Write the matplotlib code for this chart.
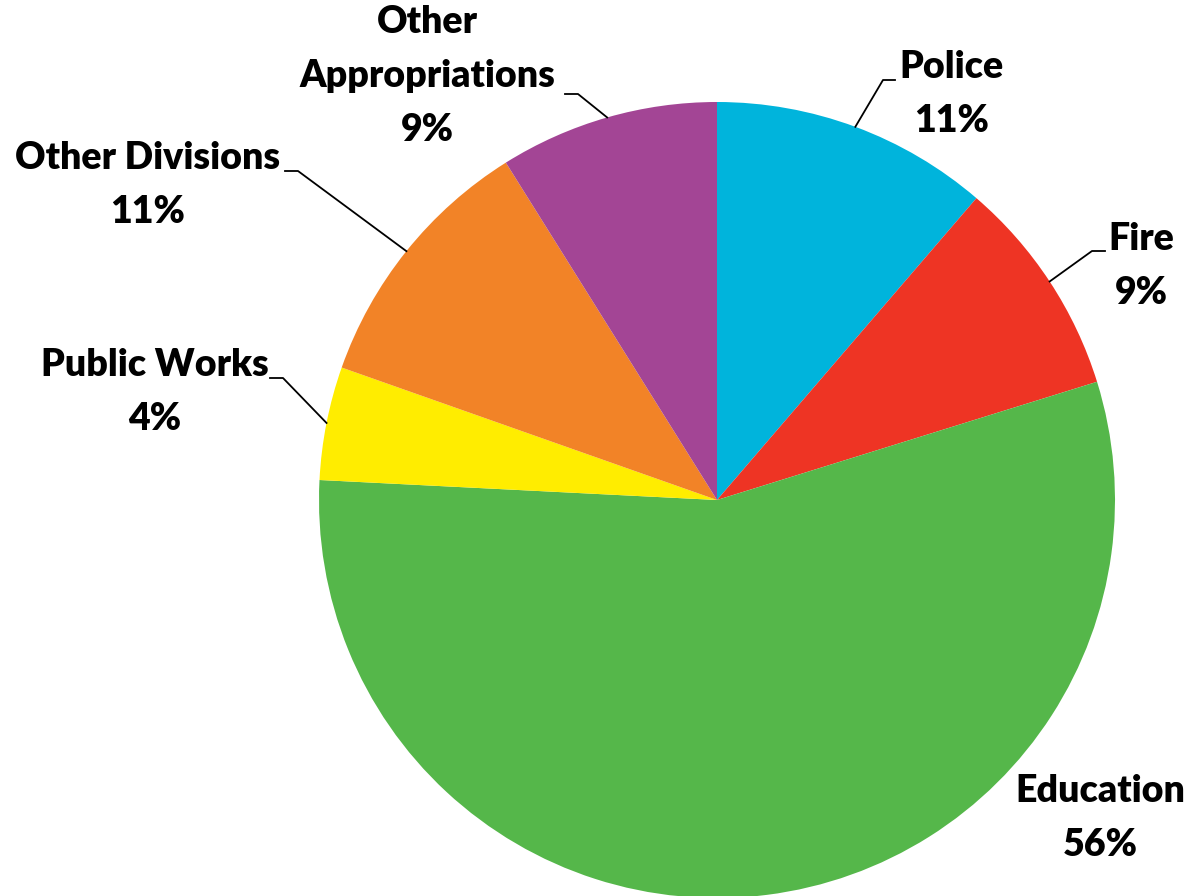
import numpy as np
import matplotlib.pyplot as plt

# budget shares (slice sizes), clockwise from the top
categories = ['Police', 'Fire', 'Education', 'Public Works', 'Other Divisions', 'Other\nAppropriations']
shares = [11.3, 8.9, 55.6, 4.6, 10.7, 8.9]
pct_labels = ['11%', '9%', '56%', '4%', '11%', '9%']
colors = ['#00B4DC', '#EE3424', '#55B74A', '#FFED00', '#F28327', '#A34595']

# label block centres (pixels, y up) and leader elbows (None = no leader)
label_pos = [(952, 802), (1141, 630), (1100, 78), (155, 504), (148, 711), (427, 820)]
elbows = [(883, 816), (1092, 645), None, (283, 518), (298, 725), (578, 802)]
tails = [(895, 816), (1105, 645), None, (270, 518), (285, 725), (565, 802)]

cx, cy, r = 717, 396, 398

fig = plt.figure(figsize=(11.92, 8.96), dpi=100)
ax = fig.add_axes([0, 0, 1, 1])
wedges, _ = ax.pie(shares, colors=colors, startangle=90, counterclock=False,
                   center=(cx, cy), radius=r, wedgeprops=dict(linewidth=0))
ax.set_xlim(0, 1192)
ax.set_ylim(0, 896)
ax.set_aspect('equal')
ax.axis('off')

for w, cat, pct, pos, elb, tail in zip(wedges, categories, pct_labels, label_pos, elbows, tails):
    ax.text(pos[0], pos[1], cat + '\n' + pct, ha='center', va='center',
            fontsize=27, fontweight='heavy', family='Lato', linespacing=1.72)
    if elb is None:
        continue
    mid = np.deg2rad((w.theta1 + w.theta2) / 2)
    ex, ey = cx + r * np.cos(mid), cy + r * np.sin(mid)
    ax.plot([tail[0], elb[0], ex], [tail[1], elb[1], ey], color='black', lw=1.3)

plt.savefig('out.png', dpi=100)
